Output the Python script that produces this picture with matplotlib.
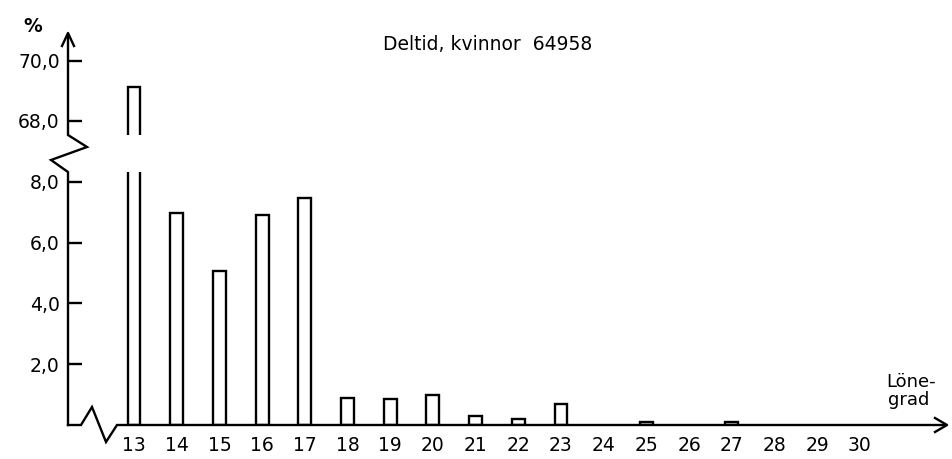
import numpy as np
import matplotlib
matplotlib.use("Agg")
import matplotlib.pyplot as plt

# Lönegrad (salary grade) and share in percent
grades = list(range(13, 31))
percent = [69.15, 6.98, 5.05, 6.92, 7.47, 0.88, 0.87, 1.0, 0.3, 0.2, 0.7,
           0.0, 0.1, 0.0, 0.09, 0.0, 0.0, 0.0]
low_ticks = [2.0, 4.0, 6.0, 8.0]
high_ticks = [68.0, 70.0]
title = "Deltid, kvinnor  64958"

W, H = 952, 459
fig = plt.figure(figsize=(W / 100, H / 100), dpi=100)
plt.rcParams['font.family'] = ['DejaVu Sans']

def frac(x0, y_top, x1, y_bot):
    # pixel box -> figure fraction
    return [x0 / W, 1 - y_bot / H, (x1 - x0) / W, (y_bot - y_top) / H]

# x range in data units matching pixel positions (13 at px 134, step 42.7 px)
xmin = 13 - (134 - 68) / 42.7
xmax = 13 + (948 - 134) / 42.7

ax_lo = fig.add_axes(frac(68, 172, 948, 425))
ax_hi = fig.add_axes(frac(68, 32, 948, 135))

lw = 1.7
fs = 13.5
for ax in (ax_lo, ax_hi):
    sel = [i for i, p in enumerate(percent) if p > 0]
    ax.bar([grades[i] for i in sel], [percent[i] for i in sel], width=0.3,
           color="white", edgecolor="black", linewidth=lw)
    ax.set_xlim(xmin, xmax)
    for s in ax.spines.values():
        s.set_visible(False)
    ax.tick_params(axis="y", direction="in", length=10, width=lw, pad=6,
                   labelsize=fs)
    ax.tick_params(axis="x", length=0)
    ax.patch.set_alpha(0)

ax_lo.set_ylim(0, (425 - 172) / 30.4)
ax_hi.set_ylim(68 - (135 - 121) / 30.0, 70 + (61 - 32) / 30.0)

ax_lo.set_yticks(low_ticks)
ax_lo.set_yticklabels([f"{t:.1f}".replace(".", ",") for t in low_ticks])
ax_hi.set_yticks(high_ticks)
ax_hi.set_yticklabels([f"{t:.1f}".replace(".", ",") for t in high_ticks])
ax_lo.set_xticks(grades)
ax_lo.set_xticklabels([str(g) for g in grades], fontsize=fs)
ax_lo.tick_params(axis="x", pad=8)
ax_hi.set_xticks([])

# overlay in pixel coordinates for axis lines, breaks and arrows
ov = fig.add_axes([0, 0, 1, 1])
ov.set_xlim(0, W)
ov.set_ylim(H, 0)
ov.axis("off")
ov.patch.set_alpha(0)

# y axis with break
ov.plot([68, 68, 87, 51, 68, 68], [36, 135, 147, 160, 172, 425],
        color="black", lw=lw, solid_joinstyle="miter")
ov.plot([62, 68, 74], [46, 33, 46], color="black", lw=lw)
# x axis with break
ov.plot([68, 81, 92, 106, 117, 944], [425, 425, 407, 442, 425, 425],
        color="black", lw=lw, solid_joinstyle="miter")
ov.plot([935, 947, 935], [418, 425, 432], color="black", lw=lw)

ov.text(33, 26, "%", fontsize=fs, fontweight="bold", ha="center", va="center")
ov.text(488, 44, title, fontsize=fs, ha="center", va="center")
ov.text(886, 382, "Löne-", fontsize=13, ha="left", va="center")
ov.text(888, 400, "grad", fontsize=13, ha="left", va="center")

fig.savefig("out.png", dpi=100)
